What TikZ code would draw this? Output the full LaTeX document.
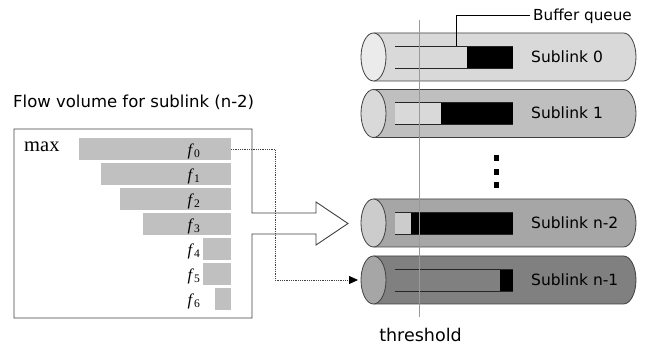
\documentclass[tikz,border=0pt]{standalone}
\usepackage{fontspec}
\setmainfont{Liberation Serif}
\setsansfont{DejaVu Sans}
\usetikzlibrary{arrows.meta, positioning}
\definecolor{edgegrey}{HTML}{404040}
\definecolor{bargrey}{HTML}{C0C0C0}
\definecolor{pipe0}{HTML}{D9D9D9}
\definecolor{pipe0end}{HTML}{EBEBEB}
\definecolor{pipe1}{HTML}{BFBFBF}
\definecolor{pipe1end}{HTML}{D9D9D9}
\definecolor{pipe2}{HTML}{A6A6A6}
\definecolor{pipe2end}{HTML}{CCCCCC}
\definecolor{pipe3}{HTML}{808080}
\definecolor{pipe3end}{HTML}{A6A6A6}

\begin{document}
\begin{tikzpicture}[x=1pt, y=-1pt,
    pics/pipe/.style n args={2}{code={
      \fill[#1] (-125,-24) -- (125,-24) arc[start angle=-90, end angle=90, x radius=12.5, y radius=24] -- (-125,24) -- cycle;
      \draw[draw=edgegrey, line width=0.8pt] (-125,-24) -- (125,-24) arc[start angle=-90, end angle=90, x radius=12.5, y radius=24] -- (-125,24);
      \draw[draw=edgegrey, line width=0.8pt, fill=#2] (-125,0) ellipse[x radius=12.5, y radius=24];
      \coordinate (-west) at (-137.5,0);
    }},
    lbl/.style={font=\sffamily\fontsize{15.5}{18}\selectfont, inner sep=0pt, anchor=base west},
    bar/.style={fill=bargrey, minimum height=22pt, inner sep=0pt, anchor=north east},
    flab/.style={font=\fontsize{16.5}{18}\selectfont, inner sep=0pt},
    qline/.style={draw=black!85, line width=0.8pt},
    flowlink/.style={densely dotted, draw=edgegrey, line width=0.8pt, shorten >=3pt, -{Triangle[length=9pt,width=8pt,color=black]}},
    line/.style={draw=black, line width=0.6pt}]
\useasboundingbox (0,0) rectangle (649,347);
% sublinks
\pic (sub0) at (498.5,57) {pipe={pipe0}{pipe0end}};
\pic (sub1) at (498.5,113.5) {pipe={pipe1}{pipe1end}};
\pic (subn2) at (498.5,223) {pipe={pipe2}{pipe2end}};
\pic (subn1) at (498.5,280) {pipe={pipe3}{pipe3end}};
\foreach \c/\b/\inn in {57/467/pipe0, 113.5/441/pipe1end, 223/411/pipe2end, 280/500/pipe3}{
  \fill[\inn] (395,\c-11) rectangle (\b,\c+11);
  \fill[black] (\b,\c-11) rectangle (513,\c+11);
  \draw[qline] (395,\c-11) -- (513,\c-11) (395,\c+11) -- (513,\c+11);
}
\node[lbl] (lab0) at (531,62.5) {Sublink 0};
\node[lbl] (lab1) at (531,119) {Sublink 1};
\node[lbl] (labn2) at (531,228.5) {Sublink n-2};
\node[lbl] (labn1) at (531,285.5) {Sublink n-1};
\foreach \y in {158,172,185} \fill (493.5,\y-3) rectangle (499,\y+3);
% threshold
\coordinate (ttop) at (419,20);
\node[font=\sffamily\fontsize{17.5}{20}\selectfont, inner sep=0pt, anchor=base] (thr) at (420.5,342) {threshold};
\draw[draw=black!40, line width=0.9pt] (ttop) -- (419,317);
% buffer queue
\node[lbl, font=\sffamily\fontsize{15.2}{18}\selectfont] (bq) at (533,21) {Buffer queue};
\coordinate (bqend) at (456,46);
\draw[line] ([xshift=-3pt]bq.west |- 0,15) -| (bqend);
% flow volume box with arrow
\node[font=\sffamily\fontsize{16.5}{19}\selectfont, inner sep=0pt, anchor=base west] (flowtitle) at (13,108) {Flow volume for sublink (n-2)};
\draw[edgegrey, line width=0.9pt, line join=miter] (252,213) -- (252,129) -- (14,129) -- (14,318) -- (252,318)
  -- (252,234) -- (316,234) -- (316,245) -- (348,223.5) -- (316,202) -- (316,213) -- cycle;
\node[font=\fontsize{20.5}{22}\selectfont, inner sep=0pt, anchor=base west] (max) at (24,152) {max};
\foreach \i/\w/\t in {0/152/138, 1/130/163, 2/111/188, 3/88/213, 4/28/238, 5/28/263, 6/16/288}{
  \node[bar, minimum width=\w] (b\i) at (231,\t) {};
  \node[flab] (f\i) at (194,\t+13) {\textit{f}\textsubscript{\i}};
}
\draw[flowlink] (b0.east) -- ++(44,0) |- (subn1-west);
\end{tikzpicture}
\end{document}
